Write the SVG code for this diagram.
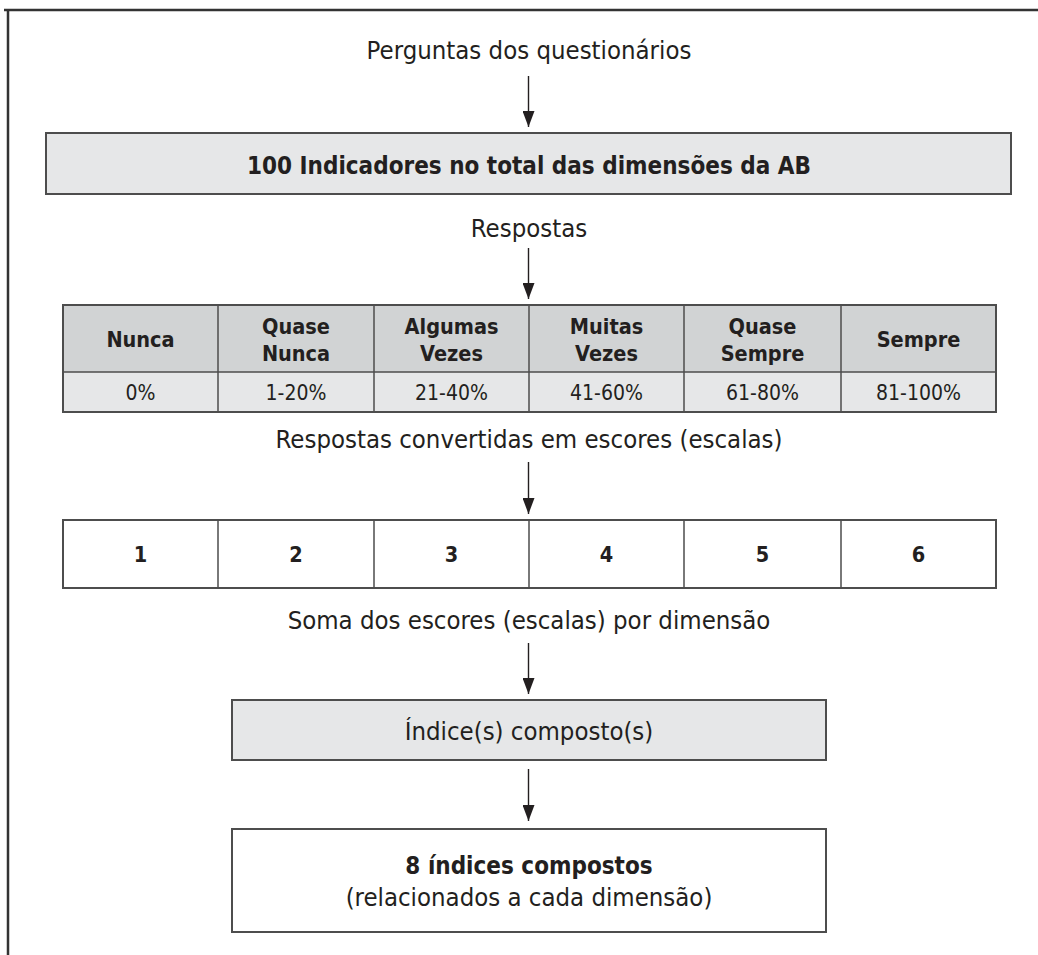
<svg xmlns="http://www.w3.org/2000/svg" width="1038" height="955" viewBox="0 0 1038 955">
<defs>
<marker id="ah" viewBox="0 0 16 12" refX="16" refY="6" markerWidth="16" markerHeight="12" markerUnits="userSpaceOnUse" orient="auto">
<path d="M0,0 L16,6 L0,12 Z" fill="#231f20"/>
</marker>
</defs>
<style>
text{font-family:"DejaVu Sans Condensed","DejaVu Sans",sans-serif;fill:#231f20;text-anchor:middle}
.r{font-size:25.5px}
.b{font-size:24px;font-weight:bold}
.h{font-size:21.5px;font-weight:bold}
.p{font-size:21px}
.box{stroke:#4d4d4d;stroke-width:2}
.g1{fill:#e6e7e8}
.g2{fill:#d1d3d4}
.w{fill:#ffffff}
.sep{stroke:#4d4d4d;stroke-width:1.5}
.conn line{stroke:#231f20;stroke-width:1.4;marker-end:url(#ah)}
</style>
<rect width="1038" height="955" fill="#ffffff"/>
<g id="frame" fill="none" stroke="#333" stroke-width="2.5">
<line x1="4" y1="10" x2="1038" y2="10"/>
<line x1="8" y1="10" x2="8" y2="955"/>
</g>
<g id="n-perguntas"><text class="r" x="529" y="59">Perguntas dos questionários</text></g>
<g id="n-indicadores">
<rect class="box g1" x="46" y="133" width="965" height="61"/>
<text class="b" x="529" y="174">100 Indicadores no total das dimensões da AB</text>
</g>
<g id="n-respostas"><text class="r" x="529" y="237">Respostas</text></g>
<g id="n-tabela">
<rect class="g2" x="63" y="305" width="933" height="67"/>
<rect class="g1" x="63" y="372" width="933" height="40"/>
<line class="sep" x1="63" y1="372" x2="996" y2="372"/>
<g class="sep">
<line x1="218" y1="305" x2="218" y2="412"/>
<line x1="374" y1="305" x2="374" y2="412"/>
<line x1="529" y1="305" x2="529" y2="412"/>
<line x1="684" y1="305" x2="684" y2="412"/>
<line x1="841" y1="305" x2="841" y2="412"/>
</g>
<rect class="box" fill="none" x="63" y="305" width="933" height="107"/>
<text class="h" x="140.5" y="347">Nunca</text>
<text class="h" x="296" y="334">Quase</text><text class="h" x="296" y="361">Nunca</text>
<text class="h" x="451.5" y="334">Algumas</text><text class="h" x="451.5" y="361">Vezes</text>
<text class="h" x="606.5" y="334">Muitas</text><text class="h" x="606.5" y="361">Vezes</text>
<text class="h" x="762.5" y="334">Quase</text><text class="h" x="762.5" y="361">Sempre</text>
<text class="h" x="918.5" y="347">Sempre</text>
<text class="p" x="140.5" y="400">0%</text>
<text class="p" x="296" y="400">1-20%</text>
<text class="p" x="451.5" y="400">21-40%</text>
<text class="p" x="606.5" y="400">41-60%</text>
<text class="p" x="762.5" y="400">61-80%</text>
<text class="p" x="918.5" y="400">81-100%</text>
</g>
<g id="n-convertidas"><text class="r" x="529" y="448">Respostas convertidas em escores (escalas)</text></g>
<g id="n-escores">
<rect class="box w" x="63" y="520" width="933" height="68"/>
<g class="sep">
<line x1="218" y1="520" x2="218" y2="588"/>
<line x1="374" y1="520" x2="374" y2="588"/>
<line x1="529" y1="520" x2="529" y2="588"/>
<line x1="684" y1="520" x2="684" y2="588"/>
<line x1="841" y1="520" x2="841" y2="588"/>
</g>
<text class="h" x="140.5" y="562">1</text>
<text class="h" x="296" y="562">2</text>
<text class="h" x="451.5" y="562">3</text>
<text class="h" x="606.5" y="562">4</text>
<text class="h" x="762.5" y="562">5</text>
<text class="h" x="918.5" y="562">6</text>
</g>
<g id="n-soma"><text class="r" x="529" y="629">Soma dos escores (escalas) por dimensão</text></g>
<g id="n-indice">
<rect class="box g1" x="232" y="700" width="594" height="60"/>
<text class="r" x="529" y="740">Índice(s) composto(s)</text>
</g>
<g id="n-oito">
<rect class="box w" x="232" y="829" width="594" height="103"/>
<text class="b" x="529" y="874">8 índices compostos</text>
<text class="r" x="529" y="906">(relacionados a cada dimensão)</text>
</g>
<g id="connectors" class="conn">
<line x1="528.5" y1="76" x2="528.5" y2="127"/>
<line x1="528.5" y1="248" x2="528.5" y2="299"/>
<line x1="528.5" y1="462" x2="528.5" y2="514"/>
<line x1="528.5" y1="643" x2="528.5" y2="694"/>
<line x1="528.5" y1="769" x2="528.5" y2="821"/>
</g>
</svg>
